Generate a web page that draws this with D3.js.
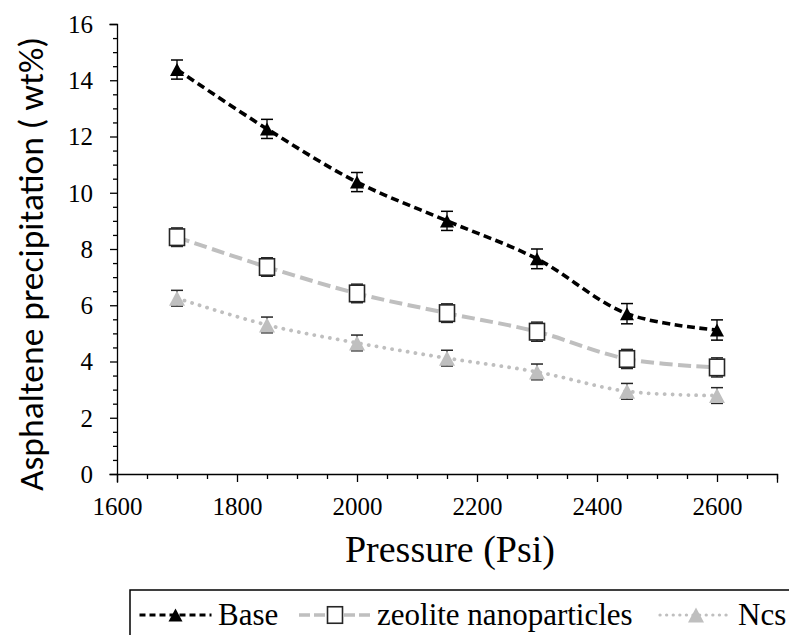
<!DOCTYPE html>
<html>
<head>
<meta charset="utf-8">
<script src="https://cdn.jsdelivr.net/npm/d3@7"></script>
<style>
  html, body { margin: 0; padding: 0; background: #fff; }
  svg { display: block; }
</style>
</head>
<body>
<svg id="chart" width="789" height="635"></svg>
<script>
// ---- Data ----
const pressures = [1700, 1850, 2000, 2150, 2300, 2450, 2600];
const baseValues = [14.38, 12.27, 10.38, 9.0, 7.65, 5.7, 5.12];
const baseErrors = [0.34, 0.34, 0.34, 0.34, 0.35, 0.36, 0.36];
const zeoliteValues = [8.42, 7.36, 6.42, 5.72, 5.06, 4.09, 3.79];
const zeoliteErrors = [0.33, 0.33, 0.33, 0.33, 0.34, 0.34, 0.34];
const ncsValues = [6.25, 5.3, 4.66, 4.12, 3.63, 2.94, 2.79];
const ncsErrors = [0.28, 0.28, 0.28, 0.28, 0.28, 0.28, 0.28];
const xTicks = [1600, 1800, 2000, 2200, 2400, 2600];
const yTicks = [0, 2, 4, 6, 8, 10, 12, 14, 16];
const seriesNames = ["Base", "zeolite nanoparticles", "Ncs"];

const svg = d3.select("#chart");
const x = d3.scaleLinear().domain([1600, 2700]).range([117, 777]);
const y = d3.scaleLinear().domain([0, 16]).range([474, 24]);

const serif = "Liberation Serif";

const series = [
  { name: seriesNames[0], values: baseValues, errors: baseErrors, color: "#000000",
    width: 3.6, dash: "8,4.5", cap: "butt", marker: "tri", mfill: "#000", mstroke: "none", ecolor: "#000",
    ldash: "6,4" },
  { name: seriesNames[1], values: zeoliteValues, errors: zeoliteErrors, color: "#bfbfbf",
    width: 4, dash: "13,5.5", cap: "butt", marker: "sq", mfill: "#fff", mstroke: "#262626", ecolor: "#262626",
    ldash: "11,4" },
  { name: seriesNames[2], values: ncsValues, errors: ncsErrors, color: "#bfbfbf",
    width: 3.8, dash: "0.1,7.8", cap: "round", marker: "tri", mfill: "#bfbfbf", mstroke: "none", ecolor: "#262626",
    ldash: "0.1,6.5" }
];

// ---- Axes ----
const g = svg.append("g");
const yMinor = d3.range(0, 16.01, 0.5).filter(v => Math.abs(v % 2) > 1e-9);
const yAxis = d3.axisLeft(y).tickValues(yTicks).tickSize(7).tickPadding(17).tickFormat(d3.format("d"));
const yAxisMinor = d3.axisLeft(y).tickValues(yMinor).tickSize(4).tickFormat("");
const yg = g.append("g").attr("transform", "translate(117,0)").call(yAxis);
g.append("g").attr("transform", "translate(117,0)").call(yAxisMinor).select(".domain").remove();

const xMinor = d3.range(1600, 2700.01, 50).filter(v => v % 200 !== 0);
const xAxis = d3.axisBottom(x).tickValues(xTicks).tickSize(8).tickPadding(10).tickFormat(d3.format("d"));
const xAxisMinor = d3.axisBottom(x).tickValues(xMinor).tickSize(5).tickFormat("");
const xg = g.append("g").attr("transform", "translate(0,474)").call(xAxis);
g.append("g").attr("transform", "translate(0,474)").call(xAxisMinor).select(".domain").remove();

g.selectAll("g").attr("font-family", serif);
g.selectAll(".domain, .tick line").attr("stroke", "#000").attr("stroke-width", 1.3);
g.selectAll(".domain").attr("stroke-linecap", "square");
yg.selectAll(".tick text").style("font-family", serif).style("font-size", "25px").attr("fill", "#000")
  .attr("dy", "0.33em");
xg.selectAll(".tick text").style("font-family", serif).style("font-size", "25px").attr("fill", "#000")
  .attr("y", 41).attr("dy", 0);

// ---- Titles ----
svg.append("text")
  .attr("x", 450).attr("y", 562)
  .attr("text-anchor", "middle")
  .style("font-family", serif).style("font-size", "38px").attr("fill", "#000")
  .text("Pressure (Psi)");

svg.append("text")
  .attr("transform", "translate(43,264) rotate(-90)")
  .attr("text-anchor", "middle")
  .style("font-family", "Carlito, Lato, sans-serif").style("font-size", "35.5px").attr("fill", "#000")
  .text("Asphaltene precipitation ( wt%)");

// ---- Series ----
const line = d3.line().curve(d3.curveCatmullRom.alpha(0.5));
const triPath = (cx, cy, w, h) => `M${cx - w / 2},${cy + h / 2}L${cx},${cy - h / 2}L${cx + w / 2},${cy + h / 2}Z`;

function drawMarker(sel, s, cx, cy, scale = 1) {
  if (s.marker === "tri") {
    const w = (s.name === "Ncs" ? 16 : 14) * scale, h = (s.name === "Ncs" ? 15 : 13) * scale;
    sel.append("path").attr("d", triPath(cx, cy, w, h)).attr("fill", s.mfill);
  } else {
    const w = 15 * scale, h = 16.5 * scale;
    sel.append("rect").attr("x", cx - w / 2).attr("y", cy - h / 2).attr("width", w).attr("height", h)
      .attr("fill", s.mfill).attr("stroke", s.mstroke).attr("stroke-width", 1.6);
  }
}

series.slice().reverse().forEach(s => {
  const pts = pressures.map((p, i) => [x(p), y(s.values[i])]);
  svg.append("path").attr("d", line(pts)).attr("fill", "none")
    .attr("stroke", s.color).attr("stroke-width", s.width)
    .attr("stroke-dasharray", s.dash).attr("stroke-linecap", s.cap);
});

series.slice().reverse().forEach(s => {
  const sg = svg.append("g");
  pressures.forEach((p, i) => {
    const cx = x(p), v = s.values[i], e = s.errors[i];
    const y1 = y(v + e), y2 = y(v - e);
    sg.append("line").attr("x1", cx).attr("x2", cx).attr("y1", y1).attr("y2", y2)
      .attr("stroke", s.ecolor).attr("stroke-width", 1.3);
    [y1, y2].forEach(yy => sg.append("line").attr("x1", cx - 6).attr("x2", cx + 6)
      .attr("y1", yy).attr("y2", yy).attr("stroke", s.ecolor).attr("stroke-width", 1.5));
    drawMarker(sg, s, cx, y(v));
  });
});

// ---- Legend ----
const lg = svg.append("g");
lg.append("rect").attr("x", 130).attr("y", 590).attr("width", 700).attr("height", 100)
  .attr("fill", "#fff").attr("stroke", "#000").attr("stroke-width", 1.5);
const legendItems = [
  { s: series[0], cx: 175.5, tx: 218 },
  { s: series[1], cx: 335, tx: 377 },
  { s: series[2], cx: 696, tx: 738 }
];
legendItems.forEach(it => {
  const ly = 615;
  lg.append("line").attr("x1", it.cx - 36).attr("x2", it.cx + 36).attr("y1", ly).attr("y2", ly)
    .attr("stroke", it.s.color).attr("stroke-width", it.s.width * 0.85)
    .attr("stroke-dasharray", it.s.ldash)
    .attr("stroke-linecap", it.s.cap);
  drawMarker(lg, it.s, it.cx, ly, 1);
  lg.append("text").attr("x", it.tx).attr("y", 625)
    .style("font-family", serif).style("font-size", "31px").attr("fill", "#000")
    .text(it.s.name);
});
</script>
</body>
</html>
